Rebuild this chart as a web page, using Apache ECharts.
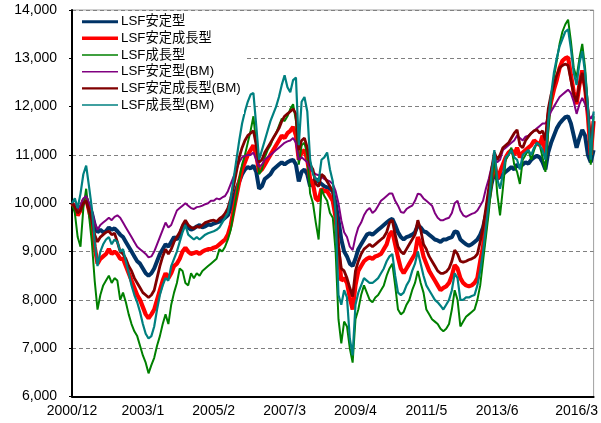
<!DOCTYPE html>
<html>
<head>
<meta charset="utf-8">
<script src="https://cdn.jsdelivr.net/npm/echarts@6/dist/echarts.min.js"></script>
<style>
html,body{margin:0;padding:0;background:#fff;}
#chart{width:601px;height:423px;}
</style>
</head>
<body>
<div id="chart"></div>
<script>
// Month categories: 2000/12 .. 2016/4 (185 monthly points)
const categories = [];
for (let i = 0; i < 185; i++) {
  const t = 2000 * 12 + 11 + i;
  categories.push(Math.floor(t / 12) + '/' + (t % 12 + 1));
}
const tickIndex = [0, 25, 50, 75, 100, 125, 150, 178];
const tickText = ['2000/12', '2003/1', '2005/2', '2007/3', '2009/4', '2011/5', '2013/6', '2016/3'];
const yTicks = [6000, 7000, 8000, 9000, 10000, 11000, 12000, 13000, 14000];

const seriesNames = ['LSF安定型', 'LSF安定成長型', 'LSF成長型', 'LSF安定型(BM)', 'LSF安定成長型(BM)', 'LSF成長型(BM)'];

const lsfStable = [
10000,9950,9850,9900,10050,10100,9950,9800,9550,9400,
9450,9400,9420,9500,9450,9480,9420,9350,9300,9200,
9100,9000,8900,8800,8750,8650,8550,8500,8550,8650,
8800,8950,9050,9150,9100,9200,9300,9250,9350,9500,
9600,9500,9450,9480,9520,9550,9500,9520,9560,9550,
9580,9600,9620,9650,9700,9750,9900,10100,10300,10450,
10600,10700,10750,10720,10780,10650,10300,10350,10500,10550,
10600,10700,10750,10800,10850,10800,10850,10880,10900,10800,
10450,10650,10700,10600,10350,10450,10500,10450,10400,10350,
10330,10300,10250,10000,9650,9250,9000,8900,8750,8700,
8850,9050,9150,9250,9350,9380,9350,9400,9450,9500,
9550,9600,9650,9680,9550,9400,9300,9250,9300,9320,
9350,9400,9550,9500,9420,9400,9350,9300,9250,9230,
9200,9250,9250,9280,9300,9420,9400,9250,9200,9150,
9120,9150,9200,9250,9350,9500,9750,10050,10400,10650,
10500,10550,10600,10650,10700,10750,10700,10800,10750,10800,
10850,10820,10900,10950,10980,10950,10850,10700,11050,11250,
11400,11550,11650,11720,11780,11800,11650,11400,11150,11350,
11520,11400,11000,10850,11100
];

const lsfBalanced = [
10000,9920,9750,9850,10050,10100,9850,9600,9100,8750,
8850,8900,8950,9050,8950,9000,8950,8850,8850,8700,
8550,8400,8250,8100,8000,7850,7700,7620,7700,7800,
8000,8200,8400,8550,8450,8550,8700,8750,8850,9000,
9080,9000,8950,8970,8990,8950,9000,9030,9050,9050,
9080,9100,9150,9200,9250,9350,9550,9850,10150,10450,
10700,10850,11000,11100,11200,11000,10650,10700,10800,10900,
11000,11100,11200,11300,11400,11350,11450,11500,11580,11400,
10900,11050,11100,10900,10500,10400,10100,10050,10300,10250,
10250,10150,10050,9700,9000,8400,8450,8350,8050,7800,
8300,8600,8700,8800,8850,8880,8850,8900,8920,8950,
9050,9150,9350,9420,9150,8880,8650,8550,8650,8750,
8850,8950,9300,9150,8900,8750,8600,8500,8400,8300,
8200,8250,8280,8350,8500,8720,8650,8450,8350,8300,
8280,8300,8350,8450,8800,9100,9600,10100,10550,10850,
10500,10650,10800,10950,11050,11100,11000,11150,10950,11050,
11100,11150,11200,11300,11250,11200,11400,11000,11800,12100,
12350,12550,12800,12950,13000,13020,12650,12300,12050,12450,
12750,12400,11800,11000,11700
];

const lsfGrowth = [
10000,9800,9300,9100,9900,10300,9750,9200,8400,7800,
8100,8300,8400,8500,8350,8450,8400,8000,8150,7950,
7700,7500,7350,7250,7050,6850,6700,6480,6650,6800,
7050,7250,7500,7700,7500,7900,8150,8350,8650,8600,
8350,8300,8550,8450,8550,8500,8600,8650,8700,8750,
8800,8850,9050,9000,9100,9250,9450,9800,10150,10500,
10800,11000,11250,11500,11800,11200,10600,10700,10950,11100,
11200,11350,11450,11600,11750,11700,11800,11950,12050,11700,
10800,11200,11250,11000,10200,10000,9600,9250,10300,10150,
10050,9800,9700,9000,7600,7100,7550,7450,7000,6700,
7600,7800,8100,8300,8150,8000,7950,8050,8100,8200,
8300,8500,8650,8750,8300,7800,7700,7750,7900,8000,
8200,8350,8600,8350,8150,7800,7700,7600,7550,7500,
7400,7350,7400,7500,7800,8200,8000,7450,7550,7650,
7700,7750,7800,8000,8300,8800,9300,9800,10400,11000,
10200,9750,10300,10900,11000,11150,10800,10650,10400,10900,
11000,11100,10900,11100,11250,11200,10950,10650,11500,12100,
12600,12950,13300,13550,13700,13800,13350,12800,12600,13000,
13300,12800,12000,10800,11800
];

const bmStable = [
10000,9950,9900,9950,10100,10150,10000,9850,9600,9450,
9550,9600,9650,9700,9650,9720,9750,9700,9600,9500,
9400,9300,9200,9100,9050,9000,8950,8880,8900,9000,
9150,9300,9450,9600,9500,9550,9700,9850,9900,9950,
10000,9950,9900,9880,9920,9930,9950,9980,10000,10050,
10050,10100,10080,10120,10150,10250,10400,10550,10700,10850,
10950,10980,11000,11000,11050,10900,10750,10800,10900,10950,
11000,11050,11100,11150,11200,11250,11280,11300,11350,11250,
10900,10950,10900,10850,10700,10650,10600,10580,10550,10500,
10480,10450,10400,10250,10000,9650,9400,9300,9100,9030,
9300,9500,9600,9750,9850,9900,9800,9850,9950,10050,
10100,10150,10200,10200,10050,9950,9820,9800,9880,9920,
9950,10050,10200,10180,10100,10050,10000,9950,9800,9700,
9650,9650,9680,9700,9800,10000,10050,9850,9750,9720,
9750,9780,9800,9850,9950,10050,10300,10500,10750,10950,
10850,10900,11100,11150,11200,11250,11300,11400,11350,11300,
11380,11400,11450,11500,11550,11600,11650,11650,11750,11900,
12000,12100,12200,12250,12300,12350,12280,12100,11850,12050,
12180,12050,11850,11750,11850
];

const bmBalanced = [
10000,9920,9800,9850,10000,10050,9850,9650,9350,9200,
9300,9350,9400,9420,9350,9380,9200,9000,8950,8850,
8700,8600,8450,8350,8250,8150,8100,8050,8100,8200,
8450,8700,8900,9050,8950,9050,9200,9300,9400,9550,
9650,9550,9500,9480,9520,9500,9550,9600,9620,9640,
9650,9620,9680,9720,9790,9900,10100,10350,10650,10950,
11150,11300,11400,11450,11500,11200,10850,10900,11050,11150,
11250,11350,11450,11550,11700,11800,11850,11900,11950,11850,
11100,11300,11350,11150,10800,10700,10400,10350,10600,10550,
10450,10350,10250,9850,9100,8650,8600,8450,8250,8070,
8600,8800,8950,9050,9100,9150,9100,9150,9200,9250,
9300,9400,9600,9650,9350,9100,9000,8950,9050,9150,
9250,9350,9650,9450,9150,9050,8900,8800,8700,8600,
8550,8550,8580,8650,8800,9030,8950,8800,8780,8800,
8830,8850,8880,8950,9200,9500,9900,10300,10700,11050,
10900,11000,11150,11200,11250,11350,11450,11520,11200,11150,
11300,11380,11450,11500,11520,11450,11500,11300,11950,12250,
12450,12650,12800,12850,12880,12850,12550,12250,12100,12450,
12700,12350,11900,11150,11700
];

const bmGrowth = [
10000,10100,9900,10200,10600,10780,10350,9900,9200,8700,
9000,9150,9250,9300,9150,9250,9200,9000,9050,8800,
8550,8300,8100,7950,7750,7500,7300,7200,7250,7450,
7800,8100,8300,8450,8400,8700,8850,9000,9200,9400,
9550,9350,9300,9250,9300,9250,9300,9350,9380,9400,
9420,9450,9500,9600,9700,9800,10100,10500,10900,11300,
11650,11900,12100,12250,12280,11600,10900,11100,11300,11500,
11700,11850,12000,12200,12450,12650,12400,12300,12550,12600,
11200,12100,12200,11900,10900,10600,10500,10450,10900,10950,
11050,10700,10450,9800,8100,7900,8200,8050,7200,6850,
7900,8150,8300,8450,8400,8350,8350,8400,8450,8550,
8650,8800,8900,8950,8500,8150,8100,8150,8300,8400,
8600,8750,9000,8750,8500,8300,8200,8100,8000,7950,
7880,7800,7900,8000,8200,8550,8450,8000,8000,8050,
8050,8080,8100,8300,8600,9000,9500,10000,10600,11100,
10500,10300,10600,10950,11000,11100,10950,10900,10700,11000,
11050,11100,11000,11150,11250,11200,11100,10900,11700,12250,
12700,13000,13250,13400,13550,13600,13200,12700,12450,12900,
13150,12700,12000,10900,11900
];

const allData = [lsfStable, lsfBalanced, lsfGrowth, bmStable, bmBalanced, bmGrowth];
const colors = ['#003366', '#FF0000', '#008000', '#800080', '#800000', '#008080'];
const widths = [4, 4.2, 2, 2, 2.8, 2.2];
const legendWidths = [3, 3.5, 1.5, 1.5, 2.2, 1.5];

const chart = echarts.init(document.getElementById('chart'));
const font = "'Liberation Sans', Arial, sans-serif";

// legend drawn as graphic (line swatches + text) on a white box
const legendGraphic = [{
  type: 'rect', shape: { x: 73, y: 11, width: 171, height: 103 },
  style: { fill: '#fff' }, z: 100
}];
seriesNames.forEach(function (name, i) {
  const y = 21.7 + i * 16.67;
  legendGraphic.push({
    type: 'line', shape: { x1: 82, y1: y, x2: 118, y2: y },
    style: { stroke: colors[i], lineWidth: legendWidths[i] }, z: 101
  });
  legendGraphic.push({
    type: 'text', x: 121, y: y,
    style: { text: name, fill: '#000', font: "13.3px 'Liberation Sans', Arial, 'Noto Sans CJK JP', sans-serif", verticalAlign: 'middle', align: 'left' },
    z: 101
  });
});

chart.setOption({
  animation: false,
  backgroundColor: '#fff',
  grid: { left: 72, right: 5, top: 10, bottom: 26.5, show: true, borderColor: '#a0a0a0', borderWidth: 1 },
  xAxis: {
    type: 'category', data: categories, boundaryGap: false,
    axisLine: { show: true, lineStyle: { color: '#000', width: 2 } },
    axisTick: { show: false },
    splitLine: { show: false },
    axisLabel: {
      interval: function (idx) { return tickIndex.indexOf(idx) >= 0; },
      formatter: function (v, idx) { const k = tickIndex.indexOf(idx); return k >= 0 ? tickText[k] : ''; },
      color: '#000', fontSize: 14, fontFamily: font, margin: 8, hideOverlap: false
    }
  },
  yAxis: {
    type: 'value', min: yTicks[0], max: yTicks[yTicks.length - 1], interval: 1000,
    axisLine: { show: true, lineStyle: { color: '#000', width: 2 } },
    axisTick: { show: true, inside: false, length: 3, lineStyle: { color: '#000' } },
    splitLine: { show: true, lineStyle: { color: '#808080', type: [4, 3], width: 1 } },
    axisLabel: {
      color: '#000', fontSize: 14, fontFamily: font, margin: 15,
      formatter: function (v) { return v.toLocaleString('en-US'); }
    }
  },
  graphic: legendGraphic,
  series: allData.map(function (d, i) {
    return {
      name: seriesNames[i], type: 'line', data: d, symbol: 'none', showSymbol: false,
      lineStyle: { color: colors[i], width: widths[i] },
      itemStyle: { color: colors[i] },
      z: 2 + i
    };
  })
});
</script>
</body>
</html>
